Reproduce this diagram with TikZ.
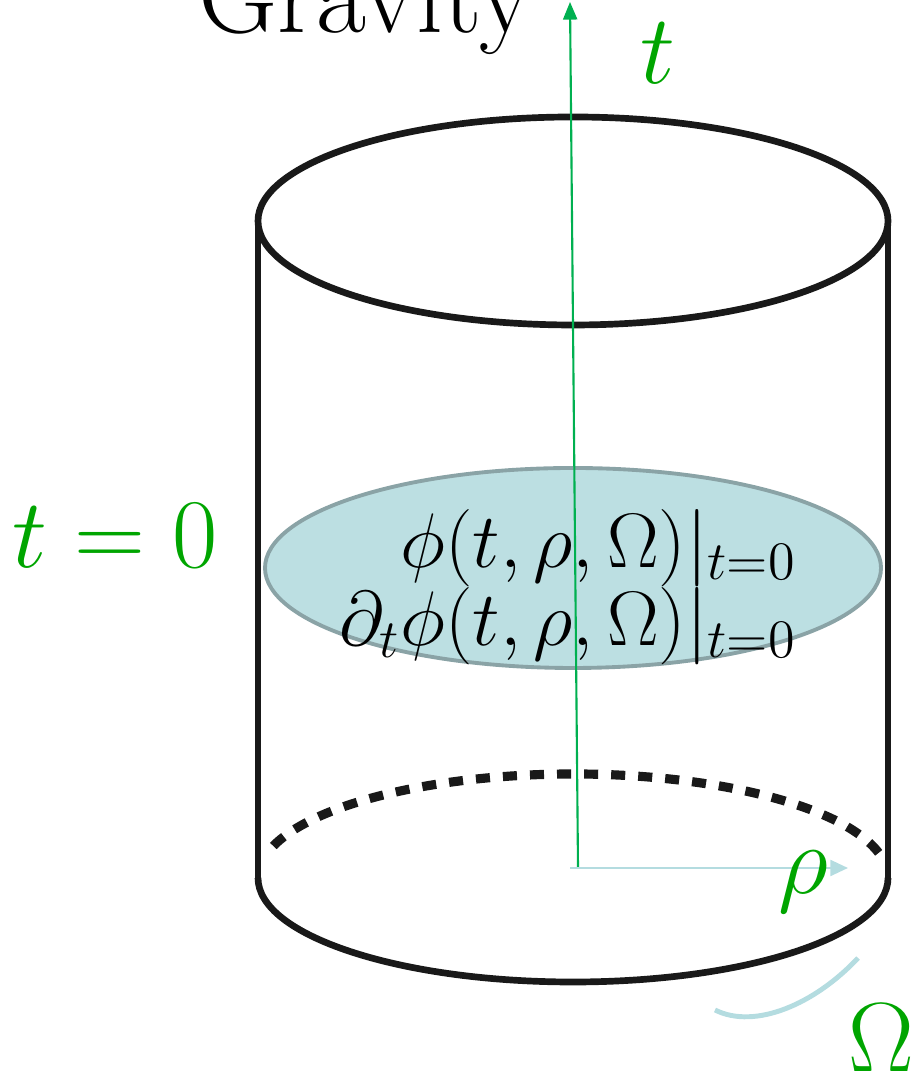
\RequirePackage{fix-cm}
\documentclass[tikz,border=0pt]{standalone}
\usepackage{tikz}
\usetikzlibrary{arrows.meta}

\definecolor{axisgreen}{RGB}{0,176,80}
\definecolor{labelgreen}{RGB}{0,165,0}
\definecolor{slicefill}{RGB}{188,223,226}
\definecolor{sliceedge}{RGB}{138,163,166}
\definecolor{paleblue}{RGB}{180,220,224}

\begin{document}
\begin{tikzpicture}[x=0.01cm, y=0.01cm,
    rim/.style={line width=1.9pt, black!90},
    hidden/.style={line width=2.6pt, black!90, dash pattern=on 4pt off 3.7pt},
    taxis/.style={axisgreen, line width=0.6pt, -{Triangle[length=5pt, width=4pt]}},
    rhoaxis/.style={paleblue, line width=0.7pt, -{Triangle[length=5pt, width=4.5pt]}},
    biglabel/.style={font=\fontsize{28}{32}\selectfont, labelgreen, inner sep=0pt},
    eqn/.style={font=\fontsize{22}{26}\selectfont, inner sep=0pt}]
    \useasboundingbox (0,0) rectangle (911,1074);

    % --- cylinder: top rim, sides, bottom rim (back half hidden) ---
    \draw[rim] (573,853) ellipse [x radius=315, y radius=104];
    \foreach \xs in {258,888}{
      \draw[rim] (\xs,853) -- (\xs,196);
    }
    \draw[rim] (258,196) arc [start angle=180, end angle=360, x radius=315, y radius=104];
    \draw[hidden] (573,196) ++(14:315 and 104)
      arc [start angle=14, end angle=166, x radius=315, y radius=104];

    % --- the t = 0 slice with its initial data ---
    \draw[slicefill, fill=slicefill] (573,506) ellipse [x radius=308, y radius=100];
    \draw[sliceedge, line width=1.1pt] (573,506) ellipse [x radius=308, y radius=100];
    \node[eqn, anchor=base east] (phi) at (797,506) {$\phi(t,\rho,\Omega)|_{t=0}$};
    \node[eqn, anchor=base east] (dphi) at (797,428) {$\partial_t\phi(t,\rho,\Omega)|_{t=0}$};
    \node[biglabel, anchor=base west] (tzero) at (12,506) {$t=0$};

    % --- axes ---
    \coordinate (torigin) at (578,206);
    \coordinate (ttip) at (570,1072);
    \coordinate (rhoorigin) at (570,206);
    \coordinate (rhotip) at (848,206);
    \draw[taxis] (torigin) -- (ttip);
    \draw[rhoaxis] (rhoorigin) -- (rhotip);
    \node[biglabel, anchor=base west] (tlabel) at (640,990) {$t$};
    \node[biglabel, anchor=base west] (rholabel) at (778,180) {$\rho$};

    % angular direction
    \coordinate (omstart) at (715,64);
    \coordinate (omend) at (858,116);
    \draw[paleblue, line width=1.4pt] (omstart) .. controls (755,44) and (815,70) .. (omend);
    \node[biglabel, anchor=base west] (omegalabel) at (848,2) {$\Omega$};

    \node[font=\fontsize{31}{36}\selectfont, inner sep=0pt, anchor=base west] (gravity)
      at (198,1041) {Gravity};
  \end{tikzpicture}
\end{document}
